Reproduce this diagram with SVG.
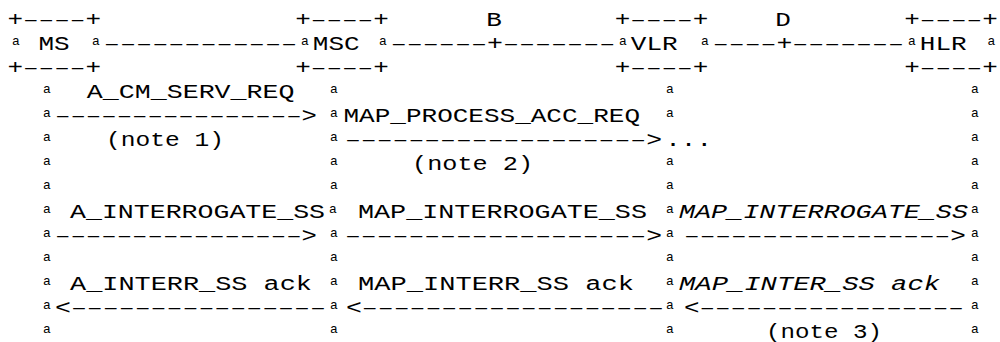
<svg xmlns="http://www.w3.org/2000/svg" width="1000" height="342" viewBox="0 0 1000 342">
<style>
.t{font-family:"Liberation Mono","DejaVu Sans Mono",monospace;font-size:20px;fill:#000}
.i{font-family:"Liberation Mono","DejaVu Sans Mono",monospace;font-size:20px;font-style:italic;fill:#000}
.d{font-family:"Liberation Sans","DejaVu Sans",sans-serif;font-size:15px;fill:#000}
.a{font-family:"Liberation Mono","DejaVu Sans Mono",monospace;font-size:13px;fill:#000;text-anchor:middle}
</style>
<rect width="1000" height="342" fill="#fff"/>
<g id="node-ms">
<text class="t" x="7.4" y="26" textLength="15.6" lengthAdjust="spacingAndGlyphs">+</text>
<text class="d" x="23" y="24.6" textLength="62.4" lengthAdjust="spacingAndGlyphs">----</text>
<text class="t" x="85.4" y="26" textLength="15.6" lengthAdjust="spacingAndGlyphs">+</text>
<text class="a" x="16" y="45">a</text>
<text class="t" x="38.4" y="50" textLength="31.2" lengthAdjust="spacingAndGlyphs">MS</text>
<text class="a" x="96" y="45">a</text>
<text class="t" x="7.4" y="74" textLength="15.6" lengthAdjust="spacingAndGlyphs">+</text>
<text class="d" x="23" y="72.6" textLength="62.4" lengthAdjust="spacingAndGlyphs">----</text>
<text class="t" x="85.4" y="74" textLength="15.6" lengthAdjust="spacingAndGlyphs">+</text>
<text class="a" x="47 47 47 47 47 47 47 47 47 47 47" y="93 117 141 165 189 213 237 261 285 309 333">aaaaaaaaaaa</text>
</g>
<g id="node-msc">
<text class="t" x="295.2" y="26" textLength="15.6" lengthAdjust="spacingAndGlyphs">+</text>
<text class="d" x="310.8" y="24.6" textLength="62.4" lengthAdjust="spacingAndGlyphs">----</text>
<text class="t" x="373.2" y="26" textLength="15.6" lengthAdjust="spacingAndGlyphs">+</text>
<text class="a" x="305" y="45">a</text>
<text class="t" x="312.8" y="50" textLength="46.8" lengthAdjust="spacingAndGlyphs">MSC</text>
<text class="a" x="383" y="45">a</text>
<text class="t" x="295.2" y="74" textLength="15.6" lengthAdjust="spacingAndGlyphs">+</text>
<text class="d" x="310.8" y="72.6" textLength="62.4" lengthAdjust="spacingAndGlyphs">----</text>
<text class="t" x="373.2" y="74" textLength="15.6" lengthAdjust="spacingAndGlyphs">+</text>
<text class="a" x="334 334 334 334 334 333 334 334 334 334 334" y="93 117 141 165 189 213 237 261 285 309 333">aaaaaaaaaaa</text>
</g>
<g id="node-vlr">
<text class="t" x="614.7" y="26" textLength="15.6" lengthAdjust="spacingAndGlyphs">+</text>
<text class="d" x="630.3" y="24.6" textLength="62.4" lengthAdjust="spacingAndGlyphs">----</text>
<text class="t" x="692.7" y="26" textLength="15.6" lengthAdjust="spacingAndGlyphs">+</text>
<text class="a" x="623" y="45">a</text>
<text class="t" x="630.8" y="50" textLength="46.8" lengthAdjust="spacingAndGlyphs">VLR</text>
<text class="a" x="705" y="45">a</text>
<text class="t" x="614.7" y="74" textLength="15.6" lengthAdjust="spacingAndGlyphs">+</text>
<text class="d" x="630.3" y="72.6" textLength="62.4" lengthAdjust="spacingAndGlyphs">----</text>
<text class="t" x="692.7" y="74" textLength="15.6" lengthAdjust="spacingAndGlyphs">+</text>
<text class="a" x="670 670" y="93 117">aa</text>
<text class="a" x="670 670 670 670 670 670 670 670" y="165 189 213 237 261 285 309 333">aaaaaaaa</text>
</g>
<g id="node-hlr">
<text class="t" x="904.2" y="26" textLength="15.6" lengthAdjust="spacingAndGlyphs">+</text>
<text class="d" x="919.8" y="24.6" textLength="62.4" lengthAdjust="spacingAndGlyphs">----</text>
<text class="t" x="982.2" y="26" textLength="15.6" lengthAdjust="spacingAndGlyphs">+</text>
<text class="a" x="912" y="45">a</text>
<text class="t" x="919.8" y="50" textLength="46.8" lengthAdjust="spacingAndGlyphs">HLR</text>
<text class="a" x="991.5" y="45">a</text>
<text class="t" x="904.2" y="74" textLength="15.6" lengthAdjust="spacingAndGlyphs">+</text>
<text class="d" x="919.8" y="72.6" textLength="62.4" lengthAdjust="spacingAndGlyphs">----</text>
<text class="t" x="982.2" y="74" textLength="15.6" lengthAdjust="spacingAndGlyphs">+</text>
<text class="a" x="975 975 975 975 975 975 975 975 975 975 975" y="93 117 141 165 189 213 237 261 285 309 333">aaaaaaaaaaa</text>
</g>
<g id="connectors">
<text class="d" x="103.8" y="48.6" textLength="193.4" lengthAdjust="spacingAndGlyphs">------------</text>
<text class="t" x="486.2" y="26" textLength="15.6" lengthAdjust="spacingAndGlyphs">B</text>
<text class="d" x="390.8" y="48.6" textLength="96.2" lengthAdjust="spacingAndGlyphs">------</text>
<text class="t" x="487" y="50" textLength="16" lengthAdjust="spacingAndGlyphs">+</text>
<text class="d" x="503" y="48.6" textLength="112.2" lengthAdjust="spacingAndGlyphs">-------</text>
<text class="t" x="775.2" y="26" textLength="15.6" lengthAdjust="spacingAndGlyphs">D</text>
<text class="d" x="712.8" y="48.6" textLength="63.7" lengthAdjust="spacingAndGlyphs">----</text>
<text class="t" x="776.5" y="50" textLength="15.9" lengthAdjust="spacingAndGlyphs">+</text>
<text class="d" x="792.4" y="48.6" textLength="111.5" lengthAdjust="spacingAndGlyphs">-------</text>

<text class="t" x="86.8" y="98" textLength="207.7" lengthAdjust="spacingAndGlyphs">A_CM_SERV_REQ</text>
<text class="d" x="55" y="120.6" textLength="246.6" lengthAdjust="spacingAndGlyphs">----------------</text>
<text class="t" x="301.6" y="122" textLength="15.4" lengthAdjust="spacingAndGlyphs">&gt;</text>
<text class="t" x="343.5" y="122" textLength="296.5" lengthAdjust="spacingAndGlyphs">MAP_PROCESS_ACC_REQ</text>
<text class="t" x="106" y="146" textLength="118" lengthAdjust="spacingAndGlyphs">(note 1)</text>
<text class="d" x="345" y="144.6" textLength="301.2" lengthAdjust="spacingAndGlyphs">-------------------</text>
<text class="t" x="646.2" y="146" textLength="15.85" lengthAdjust="spacingAndGlyphs">&gt;</text>
<text class="t" x="665.2" y="146" textLength="46.8" lengthAdjust="spacingAndGlyphs">...</text>
<text class="t" x="412" y="170" textLength="121" lengthAdjust="spacingAndGlyphs">(note 2)</text>

<text class="t" x="70" y="218" textLength="255" lengthAdjust="spacingAndGlyphs">A_INTERROGATE_SS</text>
<text class="t" x="358" y="218" textLength="289" lengthAdjust="spacingAndGlyphs">MAP_INTERROGATE_SS</text>
<text class="i" x="679" y="218" textLength="289" lengthAdjust="spacingAndGlyphs">MAP_INTERROGATE_SS</text>
<text class="d" x="55" y="240.6" textLength="246.6" lengthAdjust="spacingAndGlyphs">----------------</text>
<text class="t" x="301.6" y="242" textLength="15.4" lengthAdjust="spacingAndGlyphs">&gt;</text>
<text class="d" x="345" y="240.6" textLength="301.2" lengthAdjust="spacingAndGlyphs">-------------------</text>
<text class="t" x="646.2" y="242" textLength="15.85" lengthAdjust="spacingAndGlyphs">&gt;</text>
<text class="d" x="684" y="240.6" textLength="266.3" lengthAdjust="spacingAndGlyphs">-----------------</text>
<text class="t" x="950.3" y="242" textLength="15.67" lengthAdjust="spacingAndGlyphs">&gt;</text>

<text class="t" x="70" y="290" textLength="242" lengthAdjust="spacingAndGlyphs">A_INTERR_SS ack</text>
<text class="t" x="358" y="290" textLength="276" lengthAdjust="spacingAndGlyphs">MAP_INTERR_SS ack</text>
<text class="i" x="679" y="290" textLength="261" lengthAdjust="spacingAndGlyphs">MAP_INTER_SS ack</text>
<text class="t" x="55" y="314" textLength="15.94" lengthAdjust="spacingAndGlyphs">&lt;</text>
<text class="d" x="70.94" y="312.6" textLength="255" lengthAdjust="spacingAndGlyphs">----------------</text>
<text class="t" x="346" y="314" textLength="15.9" lengthAdjust="spacingAndGlyphs">&lt;</text>
<text class="d" x="361.9" y="312.6" textLength="302.1" lengthAdjust="spacingAndGlyphs">-------------------</text>
<text class="t" x="684" y="314" textLength="15.56" lengthAdjust="spacingAndGlyphs">&lt;</text>
<text class="d" x="699.56" y="312.6" textLength="264.4" lengthAdjust="spacingAndGlyphs">-----------------</text>
<text class="t" x="766" y="338" textLength="116" lengthAdjust="spacingAndGlyphs">(note 3)</text>
</g>
</svg>
